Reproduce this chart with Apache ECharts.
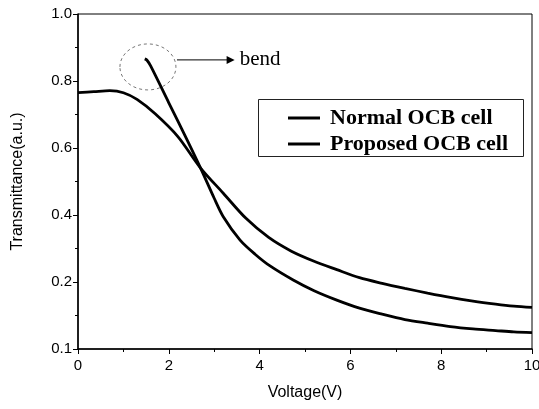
<!DOCTYPE html>
<html>
<head>
<meta charset="utf-8">
<script src="https://cdn.jsdelivr.net/npm/echarts@6/dist/echarts.min.js"></script>
<style>
    html, body { margin: 0; padding: 0; background: #fff; }
    #chart { width: 539px; height: 409px; }
</style>
</head>
<body>
<div id="chart"></div>
<script>
    // Voltage(V), transmittance (y axis runs 0..1, bottom tick printed as 0.1)
    var normalVolt = [0, 0.35, 0.7, 1.0, 1.3, 1.7, 2.2, 2.7, 3.2, 3.7, 4.2, 4.7, 5.2, 5.7, 6.2, 6.7, 7.2, 7.7, 8.2, 8.7, 9.2, 9.6, 10];
    var normalT = [0.765, 0.768, 0.771, 0.765, 0.745, 0.702, 0.634, 0.54, 0.465, 0.39, 0.333, 0.292, 0.262, 0.237, 0.213, 0.196, 0.181, 0.167, 0.154, 0.143, 0.134, 0.128, 0.124];

    var proposedVolt = [1.47, 1.52, 1.6, 2.0, 2.4, 2.7, 3.0, 3.2, 3.57, 3.9, 4.23, 4.74, 5.2, 5.7, 6.2, 6.7, 7.2, 7.7, 8.2, 8.7, 9.2, 9.6, 10];
    var proposedT = [0.866, 0.862, 0.845, 0.735, 0.625, 0.54, 0.45, 0.395, 0.325, 0.283, 0.248, 0.206, 0.174, 0.146, 0.122, 0.104, 0.088, 0.077, 0.067, 0.06, 0.055, 0.051, 0.049];

    var xTicks = [0, 2, 4, 6, 8, 10];
    var yTickLabels = ['0.1', '0.2', '0.4', '0.6', '0.8', '1.0'];

    function pairs(xs, ys) {
        return xs.map(function (x, i) { return [x, ys[i]]; });
    }

    var chart = echarts.init(document.getElementById('chart'));
    chart.setOption({
        animation: false,
        backgroundColor: '#fff',
        grid: {
            left: 78,
            right: 7,
            top: 14,
            bottom: 60,
            outerBoundsMode: 'none',
            show: true,
            borderColor: '#000',
            borderWidth: 1
        },
        legend: {
            left: 258,
            top: 99,
            orient: 'vertical',
            icon: 'rect',
            itemWidth: 32,
            itemHeight: 3,
            itemGap: 4,
            padding: [8, 14, 2, 30],
            borderWidth: 0,
            textStyle: {
                fontFamily: 'Liberation Serif',
                fontWeight: 'bold',
                fontSize: 22,
                color: '#000',
                padding: [0, 0, 0, 5]
            },
            data: ['Normal OCB cell', 'Proposed OCB cell']
        },
        xAxis: {
            type: 'value',
            min: 0,
            max: 10,
            interval: 2,
            name: 'Voltage(V)',
            nameLocation: 'middle',
            nameGap: 36,
            nameTextStyle: { fontFamily: 'Liberation Sans', fontSize: 16, color: '#000' },
            axisLine: { lineStyle: { color: '#000', width: 1.5 } },
            axisTick: { inside: false, length: 5, lineStyle: { color: '#000' } },
            minorTick: { show: true, splitNumber: 2, length: 3, lineStyle: { color: '#000' } },
            splitLine: { show: false },
            axisLabel: {
                fontFamily: 'Liberation Sans',
                fontSize: 15,
                color: '#000',
                margin: 9,
                formatter: function (v) { return xTicks.indexOf(v) >= 0 ? String(v) : ''; }
            }
        },
        yAxis: {
            type: 'value',
            min: 0,
            max: 1,
            interval: 0.2,
            name: 'Transmittance(a.u.)',
            nameLocation: 'middle',
            nameGap: 52,
            nameTextStyle: { fontFamily: 'Liberation Sans', fontSize: 16, color: '#000' },
            axisLine: { show: true, lineStyle: { color: '#000', width: 1.5 } },
            axisTick: { show: true, inside: false, length: 5, lineStyle: { color: '#000' } },
            minorTick: { show: true, splitNumber: 2, length: 3, lineStyle: { color: '#000' } },
            splitLine: { show: false },
            axisLabel: {
                fontFamily: 'Liberation Sans',
                fontSize: 15,
                color: '#000',
                margin: 6,
                formatter: function (v) { return yTickLabels[Math.round(v / 0.2)]; }
            }
        },
        series: [
            {
                name: 'Normal OCB cell',
                type: 'line',
                smooth: 0.3,
                showSymbol: false,
                symbol: 'none',
                lineStyle: { color: '#000', width: 2.8 },
                itemStyle: { color: '#000' },
                data: pairs(normalVolt, normalT)
            },
            {
                name: 'Proposed OCB cell',
                type: 'line',
                smooth: 0.3,
                showSymbol: false,
                symbol: 'none',
                lineStyle: { color: '#000', width: 2.8 },
                itemStyle: { color: '#000' },
                data: pairs(proposedVolt, proposedT)
            }
        ]
    });

    // "bend" annotation, anchored in data coordinates
    var c = chart.convertToPixel({gridIndex: 0}, [1.54, 0.842]);
    var a0 = chart.convertToPixel({gridIndex: 0}, [2.18, 0.863]);
    var a1 = chart.convertToPixel({gridIndex: 0}, [3.45, 0.863]);
    chart.setOption({
        graphic: [
            {
                // legend frame
                type: 'rect',
                shape: { x: 258.5, y: 99.5, width: 265, height: 57 },
                style: { fill: 'none', stroke: '#222', lineWidth: 1 }
            },
            {
                type: 'ellipse',
                shape: { cx: c[0], cy: c[1], rx: 28, ry: 23 },
                style: { fill: 'none', stroke: '#777', lineWidth: 1, lineDash: [3, 3] }
            },
            {
                type: 'line',
                shape: { x1: a0[0], y1: a0[1], x2: a1[0] - 6, y2: a1[1] },
                style: { stroke: '#000', lineWidth: 1 }
            },
            {
                type: 'polygon',
                shape: { points: [[a1[0], a1[1]], [a1[0] - 8, a1[1] - 4], [a1[0] - 8, a1[1] + 4]] },
                style: { fill: '#000' }
            },
            {
                type: 'text',
                x: a1[0] + 5,
                y: a1[1],
                style: {
                    text: 'bend',
                    fontFamily: 'Liberation Serif',
                    fontSize: 21,
                    fill: '#000',
                    verticalAlign: 'middle'
                }
            }
        ]
    });
</script>
</body>
</html>
